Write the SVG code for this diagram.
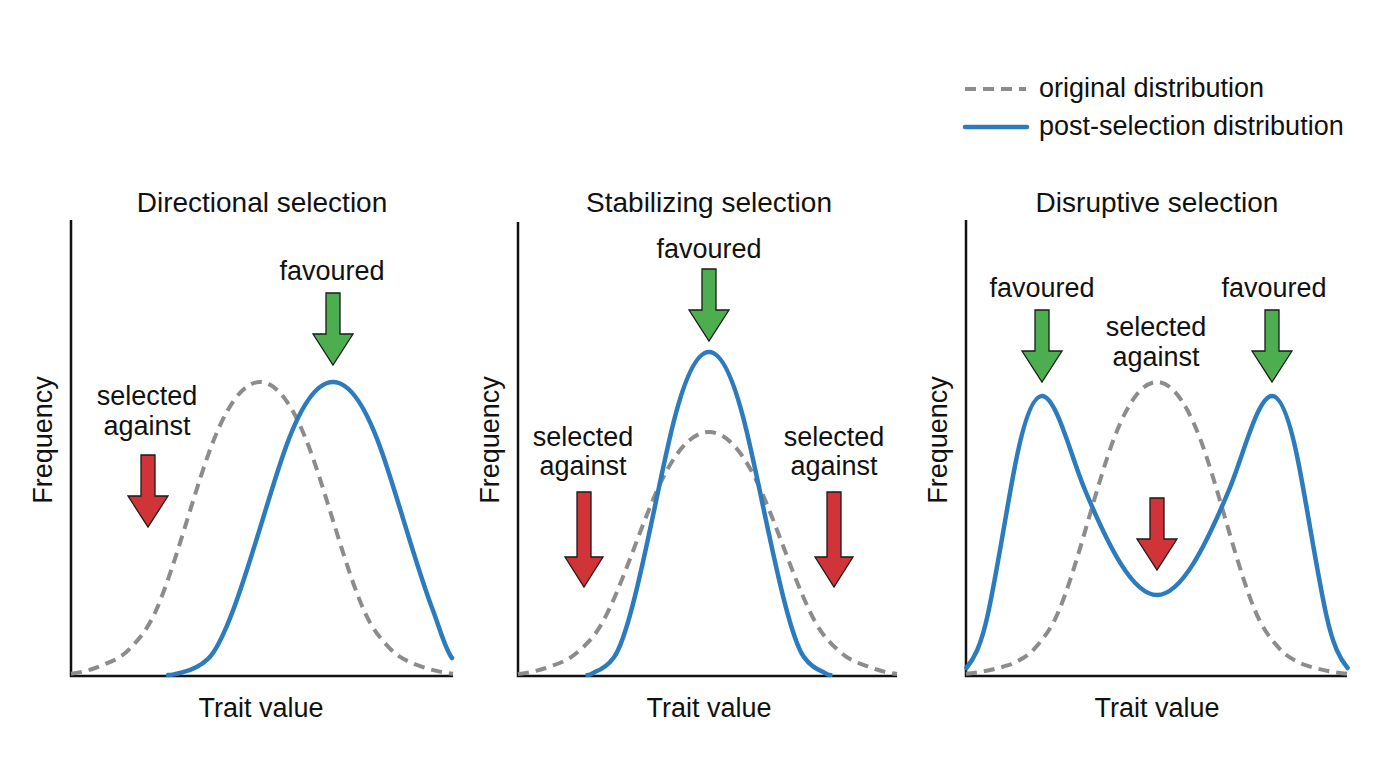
<svg xmlns="http://www.w3.org/2000/svg" width="1376" height="768" viewBox="0 0 1376 768">
<style>
text{font-family:"Liberation Sans",Arial,Helvetica,sans-serif;fill:#111}
.title{font-size:28px;text-anchor:middle}
.lbl{font-size:27px;text-anchor:middle}
.axl{font-size:27px;text-anchor:middle}
.leg{font-size:27px}
.axis{fill:none;stroke:#111;stroke-width:2.5}
.orig{fill:none;stroke:#8c8c8c;stroke-width:4;stroke-dasharray:11 7}
.post{fill:none;stroke:#2c7bbd;stroke-width:4.5;stroke-linecap:round;stroke-linejoin:round}
.fav{fill:#4cae4f;stroke:#1a1a1a;stroke-width:1.3}
.against{fill:#d13438;stroke:#1a1a1a;stroke-width:1.3}
</style>
<defs>
<polygon id="arrS" points="-7,-72 7,-72 7,-31 20,-31 0,0 -20,-31 -7,-31"/>
<polygon id="arrL" points="-7,-95 7,-95 7,-30 19,-30 0,0 -19,-30 -7,-30"/>
</defs>
<rect width="1376" height="768" fill="#fff"/>

<g id="legend">
<line x1="965" y1="89" x2="1026" y2="89" class="orig"/>
<text x="1039" y="97" class="leg">original distribution</text>
<line x1="965" y1="127" x2="1027" y2="127" class="post" stroke-width="5" stroke-linecap="butt"/>
<text x="1039" y="135" class="leg">post-selection distribution</text>
</g>

<g id="panel-directional">
<text x="262" y="212" class="title">Directional selection</text>
<path class="axis" d="M71,220 V676 H453"/>
<text class="axl" font-size="28" transform="translate(52,440) rotate(-90)">Frequency</text>
<text x="261" y="717" class="axl">Trait value</text>
<path class="orig" d="M71,673.8 C82,672.4 93,669.4 104,664.7 C112.7,660.8 121.3,657.9 130,648.6 C138.7,639.3 147.3,630.2 156,610.5 C173.3,571.5 190.7,504.1 208,455.3 C225.3,406.4 242.7,382 260,382 C277.3,382 294.7,406.4 312,455.3 C329.3,504.1 346.7,571.5 364,610.5 C372.7,630.2 381.3,639.3 390,648.6 C398.7,657.9 407.3,660.8 416,664.7 C428.3,669.4 440.7,672.4 453,673.8"/>
<path class="post" d="M168,675 C173,675 178,673.5 183,672.1 C191.3,670.1 199.7,666.7 208,658.9 C216.3,651.1 224.7,632.5 233,610.5 C249.7,566.6 266.3,504.1 283,455.3 C299.7,406.4 316.3,382 333,382 C349.7,382 366.3,406.4 383,455.3 C399.7,504.1 416.3,566.6 433,610.5 C439.3,627.2 445.7,650.4 452,658"/>
<text x="332" y="280" class="lbl">favoured</text>
<use href="#arrS" class="fav" transform="translate(333,365)"/>
<text x="147" y="405" class="lbl">selected</text>
<text x="147" y="435" class="lbl">against</text>
<use href="#arrS" class="against" transform="translate(148,527)"/>
</g>

<g id="panel-stabilizing">
<text x="709" y="212" class="title">Stabilizing selection</text>
<path class="axis" d="M518,222 V676 H897"/>
<text class="axl" font-size="28" transform="translate(499,440) rotate(-90)">Frequency</text>
<text x="709" y="717" class="axl">Trait value</text>
<path class="orig" d="M518,674 C528.7,672.8 539.3,670.4 550,666.5 C558.8,663.3 567.7,660.8 576.5,653.1 C585.3,645.4 594.2,637.8 603,621.5 C620.7,589.1 638.3,533.3 656,492.8 C673.7,452.2 691.3,432 709,432 C726.7,432 744.3,452.2 762,492.8 C779.7,533.3 797.3,589.1 815,621.5 C823.8,637.8 832.7,645.4 841.5,653.1 C850.3,660.8 859.2,663.3 868,666.5 C877.7,670.4 887.3,672.8 897,674"/>
<path class="post" d="M587.4,675 C590,675 592.5,673.4 595,671.8 C601.3,669.6 607.7,665.9 614,657.2 C620.3,648.6 626.7,628.2 633,603.9 C645.7,555.5 658.3,486.6 671,432.8 C683.7,378.9 696.3,352 709,352 C721.7,352 734.3,378.9 747,432.8 C759.7,486.6 772.3,555.5 785,603.9 C791.3,628.2 797.7,648.6 804,657.2 C810.3,665.9 816.7,669.6 823,671.8 C825.5,673.4 828,675 830.6,675"/>
<text x="709" y="258" class="lbl">favoured</text>
<use href="#arrS" class="fav" transform="translate(709,341)"/>
<text x="583" y="446" class="lbl">selected</text>
<text x="583" y="475" class="lbl">against</text>
<use href="#arrL" class="against" transform="translate(584,587)"/>
<text x="834" y="446" class="lbl">selected</text>
<text x="834" y="475" class="lbl">against</text>
<use href="#arrL" class="against" transform="translate(834,587)"/>
</g>

<g id="panel-disruptive">
<text x="1157" y="212" class="title">Disruptive selection</text>
<path class="axis" d="M966,220 V676 H1347"/>
<text class="axl" font-size="28" transform="translate(947,440) rotate(-90)">Frequency</text>
<text x="1157" y="717" class="axl">Trait value</text>
<path class="orig" d="M966,673.8 C980.7,672.4 995.3,669.4 1010,664.7 C1018.2,660.8 1026.3,657.9 1034.5,648.6 C1042.7,639.3 1050.8,630.2 1059,610.5 C1075.3,571.5 1091.7,504.1 1108,455.3 C1124.3,406.4 1140.7,382 1157,382 C1173.3,382 1189.7,406.4 1206,455.3 C1222.3,504.1 1238.7,571.5 1255,610.5 C1263.2,630.2 1271.3,639.3 1279.5,648.6 C1287.7,657.9 1295.8,660.8 1304,664.7 C1318.3,669.4 1332.7,672.4 1347,673.8"/>
<path class="post" d="M966.4,668 C973.6,659.1 980.8,647.1 988,613.6 C997,571.8 1006,512.3 1015,465.8 C1024,419.2 1033,396 1042,396 C1056.3,396 1070.7,455.7 1085,490 C1109,547.6 1133,595 1157,595 C1181,595 1205,547.6 1229,490 C1243.3,455.7 1257.7,396 1272,396 C1281,396 1290,419.2 1299,465.8 C1308,512.3 1317,571.8 1326,613.6 C1333.2,647.1 1340.4,659.1 1347.6,668"/>
<text x="1042" y="297" class="lbl">favoured</text>
<use href="#arrS" class="fav" transform="translate(1042,382)"/>
<text x="1274" y="297" class="lbl">favoured</text>
<use href="#arrS" class="fav" transform="translate(1272,382)"/>
<text x="1156" y="336" class="lbl">selected</text>
<text x="1156" y="366" class="lbl">against</text>
<use href="#arrS" class="against" transform="translate(1157,570)"/>
</g>
</svg>
